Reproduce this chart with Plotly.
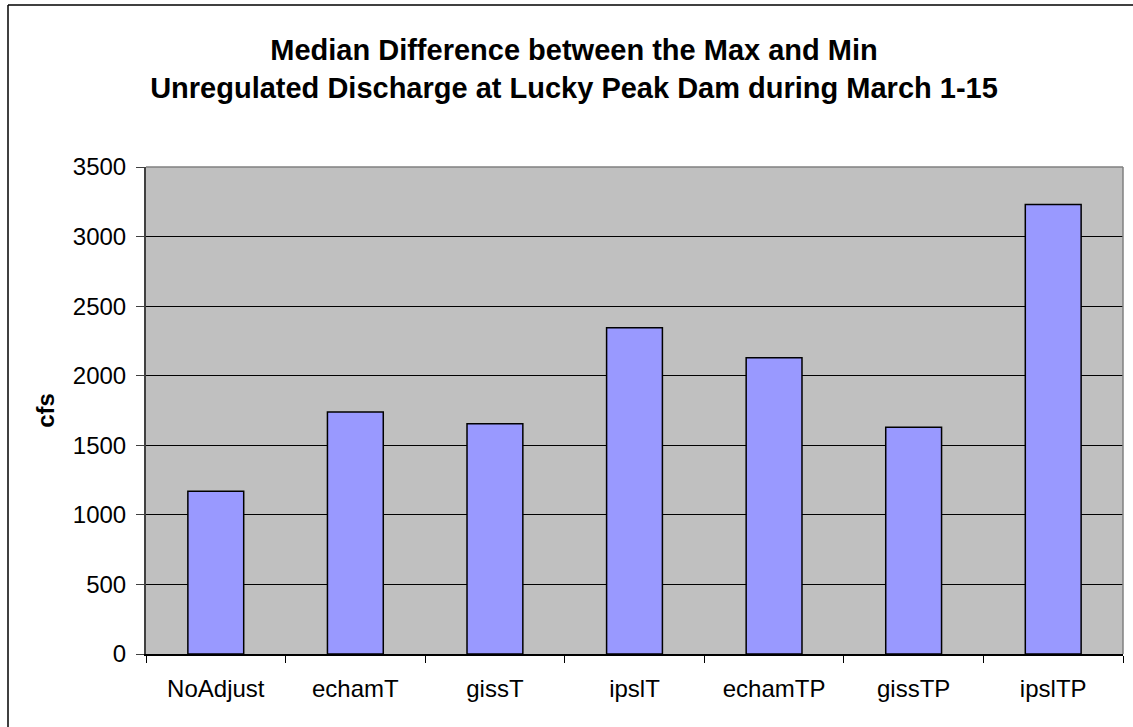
import plotly.graph_objects as go

categories = ["NoAdjust", "echamT", "gissT", "ipslT", "echamTP", "gissTP", "ipslTP"]
values = [1170, 1740, 1655, 2345, 2130, 1630, 3230]
y_ticks = [0, 500, 1000, 1500, 2000, 2500, 3000, 3500]

W, H = 1133, 727
L, R, T, B = 146, 10, 167, 73
pw, ph = W - L - R, H - T - B

def px(x):
    return (x - L) / pw

def py(y):
    return (H - B - y) / ph

fig = go.Figure()
fig.add_trace(go.Bar(
    x=categories, y=values, width=0.4,
    marker=dict(color="#9999FF", line=dict(color="black", width=1.5)),
))

font = "Arial, Liberation Sans, sans-serif"
fig.update_layout(
    width=W, height=H,
    margin=dict(l=L, r=R, t=T, b=B, pad=0),
    paper_bgcolor="white", plot_bgcolor="#C0C0C0",
    showlegend=False,
    font=dict(family=font, color="black"),
    title=dict(
        text="Median Difference between the Max and Min<br>Unregulated Discharge at Lucky Peak Dam during March 1-15",
        x=574 / W, xanchor="center", y=1 - 60 / H, yanchor="middle",
        font=dict(size=29, family=font, color="black", weight="bold"),
    ),
    xaxis=dict(
        type="category", tickson="boundaries", ticks="outside", ticklen=7,
        tickcolor="black", tickwidth=1, showgrid=False,
        showline=True, linecolor="black", linewidth=1.5,
        tickfont=dict(size=24, family=font, color="black"),
        ticklabelstandoff=12,
    ),
    yaxis=dict(
        range=[0, 3500], tickvals=y_ticks, ticks="outside", ticklen=8,
        tickcolor="#404040", tickwidth=1,
        showgrid=True, gridcolor="black", gridwidth=1,
        showline=True, linecolor="#404040", linewidth=2,
        zeroline=False,
        tickfont=dict(size=24, family=font, color="black"),
        ticklabelstandoff=5,
        title=dict(text="<b>cfs</b>", font=dict(size=24, family=font, color="black"), standoff=11),
    ),
    shapes=[
        dict(type="line", xref="paper", yref="paper", x0=0, x1=1, y0=1, y1=1,
             line=dict(color="#808080", width=1.5)),
        dict(type="line", xref="paper", yref="paper", x0=1, x1=1, y0=0, y1=1,
             line=dict(color="#808080", width=1.5)),
        dict(type="line", xref="paper", yref="paper", x0=px(8), x1=px(1133), y0=py(5), y1=py(5),
             line=dict(color="black", width=1.5), layer="below"),
        dict(type="line", xref="paper", yref="paper", x0=px(8), x1=px(8), y0=py(5), y1=py(727),
             line=dict(color="black", width=1.5), layer="below"),
    ],
)

fig.write_html("out.html", config={"displayModeBar": False},
               post_script="document.body.style.margin='0';document.body.style.overflow='hidden';")
